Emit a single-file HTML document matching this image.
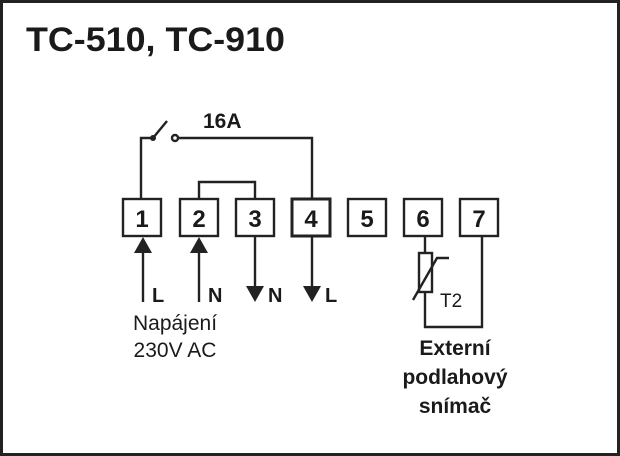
<!DOCTYPE html>
<html><head><style>
html,body{margin:0;padding:0;background:#fff}
svg{display:block}
text{font-family:"Liberation Sans",Arial,sans-serif;fill:#1a1a1a}
</style></head><body>
<svg width="620" height="456" viewBox="0 0 620 456" xmlns="http://www.w3.org/2000/svg">
<rect x="1.5" y="1.5" width="617" height="453" fill="#fff" stroke="#222" stroke-width="3"/>
<text x="26" y="51" font-size="34" font-weight="bold" textLength="259" lengthAdjust="spacingAndGlyphs">TC-510, TC-910</text>
<g stroke="#222" stroke-width="2.4" fill="none">
<polyline points="141,199 141,138 153,138"/>
<line x1="153" y1="138" x2="167" y2="121"/>
<polyline points="178,138 312,138 312,199"/>
<polyline points="199,199 199,182 255,182 255,199"/>
<rect x="123" y="199" width="38" height="37"/>
<rect x="180" y="199" width="38" height="37"/>
<rect x="236" y="199" width="38" height="37"/>
<rect x="292" y="199" width="38" height="37" stroke-width="3"/>
<rect x="348" y="199" width="38" height="37"/>
<rect x="404" y="199" width="38" height="37"/>
<rect x="460" y="199" width="38" height="37"/>
<line x1="143" y1="250" x2="143" y2="302"/>
<line x1="199" y1="250" x2="199" y2="302"/>
<line x1="255" y1="236" x2="255" y2="290"/>
<line x1="312" y1="236" x2="312" y2="290"/>
<polyline points="425,236 425,253"/>
<rect x="419" y="253" width="13" height="39"/>
<polyline points="425,292 425,327 482,327 482,236"/>
<polyline points="413,300 437,258 449,258"/>
<circle cx="175" cy="138" r="3" fill="#fff"/>
</g>
<circle cx="153" cy="138" r="3" fill="#222"/>
<g fill="#222">
<polygon points="143,237 134,253 152,253"/>
<polygon points="199,237 190,253 208,253"/>
<polygon points="255,302 246,286 264,286"/>
<polygon points="312,302 303,286 321,286"/>
</g>
<g font-size="24" font-weight="bold" text-anchor="middle">
<text x="142" y="227">1</text><text x="199" y="227">2</text><text x="255" y="227">3</text>
<text x="311" y="227">4</text><text x="367" y="227">5</text><text x="423" y="227">6</text><text x="479" y="227">7</text>
</g>
<text x="203" y="128" font-size="21" font-weight="bold">16A</text>
<g font-size="20" font-weight="bold">
<text x="152" y="302">L</text><text x="208" y="302">N</text>
<text x="268" y="302">N</text><text x="325" y="302">L</text>
</g>
<text x="440" y="307" font-size="19">T2</text>
<g font-size="21" text-anchor="middle">
<text x="175" y="330">Napájení</text><text x="175" y="357">230V AC</text>
</g>
<g font-size="21" font-weight="bold" text-anchor="middle">
<text x="455" y="355">Externí</text><text x="455" y="384">podlahový</text><text x="455" y="413">snímač</text>
</g>
</svg>
</body></html>
